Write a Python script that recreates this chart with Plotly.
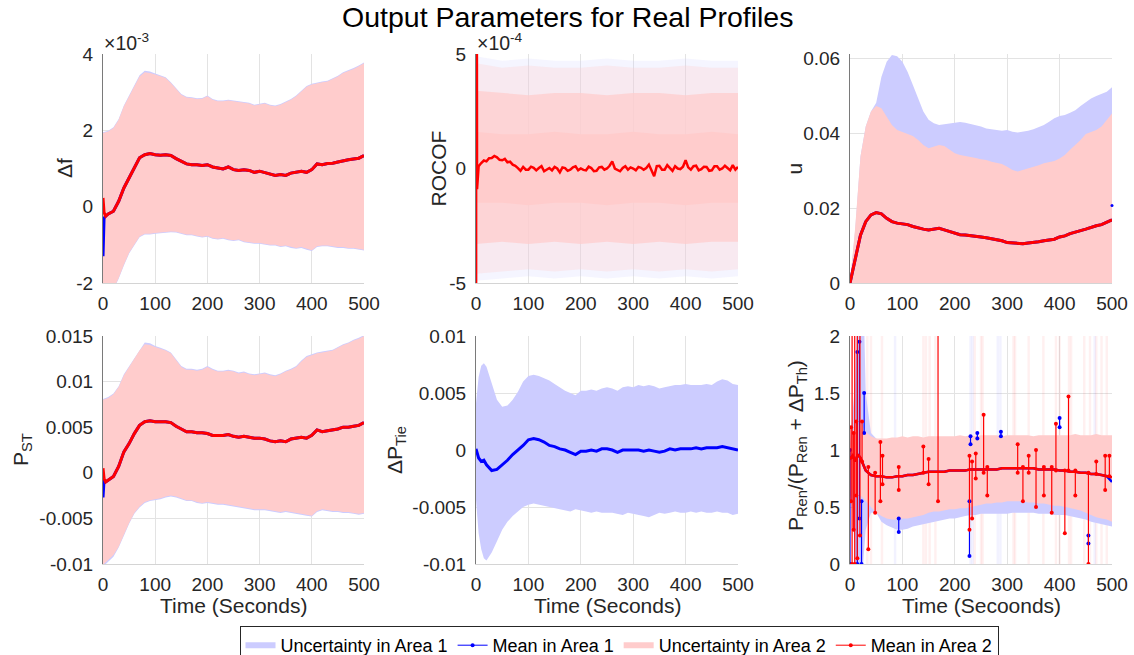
import plotly.graph_objects as go

W, H = 1134, 655
FONT = "Liberation Sans, Arial, Helvetica, sans-serif"
TXT = "#262626"
BLUE_FILL = "#CCCCFF"
PINK_FILL = "#FFCCCC"

# ---------------- time grids ----------------
t10 = list(range(0, 501, 10))                 # 0..500 step 10
t_mean_a = [0, 2, 5] + list(range(10, 501, 10))

# ---------------- Panel 1: delta f (x 1e-3) ----------------
df_a2_up = [1.93, 1.97, 2.06, 2.28, 2.63, 2.89, 3.15, 3.41, 3.52, 3.50, 3.46, 3.41, 3.37, 3.24, 3.08,
            2.93, 2.86, 2.85, 2.82, 2.83, 2.89, 2.80, 2.76, 2.76, 2.78, 2.76, 2.73, 2.72, 2.70, 2.65,
            2.67, 2.70, 2.65, 2.63, 2.67, 2.73, 2.80, 2.89, 3.02, 3.14, 3.20, 3.24, 3.26, 3.28, 3.34,
            3.41, 3.50, 3.55, 3.61, 3.68, 3.76]
df_a2_lo = [-2.60, -2.50, -2.15, -1.87, -1.52, -1.21, -1.00, -0.78, -0.71, -0.71, -0.69, -0.68, -0.66, -0.65, -0.66,
            -0.69, -0.73, -0.73, -0.76, -0.79, -0.77, -0.82, -0.84, -0.82, -0.86, -0.88, -0.86, -0.91, -0.93, -0.95,
            -0.95, -0.97, -1.00, -1.00, -1.04, -1.02, -1.06, -1.08, -1.06, -1.11, -1.14, -1.04, -1.02, -1.02, -1.04,
            -1.06, -1.06, -1.08, -1.08, -1.11, -1.13]
df_a1_up = [1.95, 1.99, 2.08, 2.30, 2.65, 2.91, 3.18, 3.44, 3.56, 3.54, 3.49, 3.43, 3.39, 3.26, 3.10,
            2.95, 2.88, 2.87, 2.84, 2.85, 2.91, 2.82, 2.78, 2.78, 2.80, 2.78, 2.75, 2.74, 2.72, 2.67,
            2.69, 2.72, 2.67, 2.65, 2.69, 2.75, 2.82, 2.91, 3.04, 3.16, 3.22, 3.26, 3.28, 3.30, 3.36,
            3.43, 3.52, 3.57, 3.63, 3.70, 3.78]
df_a1_lo = [-2.62, -2.52, -2.17, -1.89, -1.54, -1.23, -1.02, -0.80, -0.73, -0.73, -0.71, -0.70, -0.68, -0.67, -0.68,
            -0.71, -0.75, -0.75, -0.78, -0.81, -0.79, -0.84, -0.86, -0.84, -0.88, -0.90, -0.88, -0.93, -0.95, -0.97,
            -0.97, -0.99, -1.02, -1.02, -1.06, -1.04, -1.08, -1.10, -1.08, -1.13, -1.16, -1.06, -1.04, -1.04, -1.06,
            -1.08, -1.08, -1.10, -1.10, -1.13, -1.15]
df_a2_mean = [0.23, -0.15, -0.25, -0.19, -0.12, 0.14, 0.49, 0.75, 1.01, 1.28, 1.36, 1.39, 1.36, 1.35, 1.36,
              1.34, 1.26, 1.19, 1.12, 1.10, 1.10, 1.08, 1.10, 1.04, 1.01, 0.99, 1.04, 0.97, 0.95, 0.97,
              0.95, 0.90, 0.93, 0.90, 0.86, 0.82, 0.84, 0.82, 0.88, 0.90, 0.93, 0.90, 0.97, 1.12, 1.10,
              1.13, 1.14, 1.17, 1.21, 1.23, 1.25, 1.27, 1.34]
df_a1_mean = [-1.30, -0.30, -0.25, -0.19, -0.12, 0.14, 0.49, 0.75, 1.01, 1.28, 1.36, 1.39, 1.36, 1.35, 1.36,
              1.34, 1.26, 1.19, 1.12, 1.10, 1.10, 1.08, 1.10, 1.04, 1.01, 0.99, 1.04, 0.97, 0.95, 0.97,
              0.95, 0.90, 0.93, 0.90, 0.86, 0.82, 0.84, 0.82, 0.88, 0.90, 0.93, 0.90, 0.97, 1.12, 1.10,
              1.13, 1.14, 1.17, 1.21, 1.23, 1.25, 1.27, 1.34]

# ---------------- Panel 2: ROCOF (x 1e-4) ----------------
t50 = list(range(0, 501, 50))
rocof_a1_outer_up = [4.9, 4.7, 4.8, 4.7, 4.7, 4.8, 4.7, 4.7, 4.8, 4.7, 4.7]
rocof_a1_outer_lo = [-4.9, -4.8, -4.7, -4.8, -4.7, -4.8, -4.7, -4.8, -4.7, -4.8, -4.7]
rocof_a2_outer_up = [4.6, 4.4, 4.5, 4.4, 4.4, 4.5, 4.4, 4.4, 4.5, 4.4, 4.4]
rocof_a2_outer_lo = [-4.6, -4.5, -4.4, -4.5, -4.4, -4.5, -4.4, -4.5, -4.4, -4.5, -4.4]
rocof_a2_mid_up = [3.4, 3.3, 3.2, 3.3, 3.3, 3.2, 3.3, 3.3, 3.2, 3.3, 3.3]
rocof_a2_mid_lo = [-3.3, -3.2, -3.3, -3.2, -3.3, -3.2, -3.3, -3.2, -3.3, -3.2, -3.2]
rocof_a2_core_up = [1.6, 1.5, 1.5, 1.6, 1.5, 1.5, 1.6, 1.5, 1.5, 1.6, 1.5]
rocof_a2_core_lo = [-1.5, -1.5, -1.6, -1.5, -1.5, -1.6, -1.5, -1.5, -1.6, -1.5, -1.5]
rocof_t = [0, 0.5, 2] + list(range(5, 501, 5))
rocof_a2_mean = [-30, 30, -0.9,
                 0.10, 0.24, 0.35, 0.31, 0.45, 0.46, 0.55, 0.49, 0.38, 0.36,
                 0.42, 0.27, 0.30, 0.17, 0.12, 0.02, -0.10, 0.07, -0.05, -0.05,
                 0.08, 0.03, -0.08, 0.02, 0.10, -0.12, -0.05, 0.02, -0.08, 0.07,
                 0.00, -0.17, 0.05, 0.02, -0.10, -0.05, 0.05, 0.10, -0.08, 0.00,
                 -0.06, -0.08, 0.08, 0.02, -0.12, -0.10, 0.05, 0.07, -0.05, 0.00,
                 0.12, 0.31, 0.00, -0.05, -0.12, 0.02, 0.10, -0.05, 0.05, 0.00,
                 -0.08, 0.07, 0.03, -0.05, 0.02, 0.17, -0.05, -0.34, 0.10, 0.12,
                 -0.05, -0.05, 0.15, 0.02, -0.10, 0.10, 0.00, -0.03, 0.08, 0.36,
                 0.05, -0.05, 0.10, 0.12, -0.08, -0.03, 0.08, 0.07, -0.10, -0.08,
                 0.10, 0.10, -0.05, 0.00, 0.12, 0.02, -0.08, 0.15, -0.05, 0.07]

# ---------------- Panel 3: u ----------------
u_a1_up = [0.0, 0.0142, 0.0338, 0.0418, 0.0458, 0.0482, 0.0551, 0.0591, 0.0609, 0.0606, 0.0591, 0.0564,
           0.0529, 0.0493, 0.0458, 0.0436, 0.0427, 0.0422, 0.0424, 0.0427, 0.0428, 0.0430, 0.0428, 0.0425,
           0.0422, 0.0418, 0.0413, 0.0411, 0.0407, 0.0407, 0.0409, 0.0404, 0.0402, 0.0404, 0.0407, 0.0411,
           0.0416, 0.0422, 0.0431, 0.0440, 0.0446, 0.0449, 0.0455, 0.0462, 0.0473, 0.0484, 0.0493, 0.0500,
           0.0505, 0.0511, 0.0523]
u_a2_up = [0.0, 0.0150, 0.0338, 0.0418, 0.0458, 0.0473, 0.0467, 0.0444, 0.0422, 0.0409, 0.0404, 0.0400,
           0.0393, 0.0382, 0.0369, 0.0360, 0.0364, 0.0369, 0.0366, 0.0357, 0.0347, 0.0342, 0.0340, 0.0338,
           0.0334, 0.0331, 0.0329, 0.0324, 0.0320, 0.0318, 0.0311, 0.0302, 0.0298, 0.0302, 0.0307, 0.0311,
           0.0315, 0.0320, 0.0324, 0.0326, 0.0333, 0.0342, 0.0356, 0.0369, 0.0382, 0.0398, 0.0404, 0.0409,
           0.0418, 0.0437, 0.0453]
u_a2_mean = [0.0, 0.0060, 0.0128, 0.0164, 0.0182, 0.0188, 0.0185, 0.0173, 0.0164, 0.0160, 0.0158, 0.0156,
             0.0151, 0.0147, 0.0144, 0.0142, 0.0145, 0.0146, 0.0142, 0.0138, 0.0132, 0.0129, 0.0128, 0.0126,
             0.0123, 0.0123, 0.0121, 0.0119, 0.0116, 0.0113, 0.0108, 0.0107, 0.0105, 0.0105, 0.0107, 0.0108,
             0.0110, 0.0113, 0.0116, 0.0117, 0.0123, 0.0126, 0.0132, 0.0135, 0.0140, 0.0144, 0.0149, 0.0153,
             0.0156, 0.0162, 0.0169]
u_a1_mean = [0.0, 0.0060, 0.0128, 0.0164, 0.0182, 0.0188, 0.0185, 0.0173, 0.0164, 0.0160, 0.0158, 0.0156,
             0.0151, 0.0147, 0.0144, 0.0142, 0.0145, 0.0146, 0.0142, 0.0138, 0.0132, 0.0129, 0.0128, 0.0126,
             0.0123, 0.0123, 0.0121, 0.0119, 0.0116, 0.0113, 0.0108, 0.0107, 0.0105, 0.0105, 0.0107, 0.0108,
             0.0110, 0.0113, 0.0116, 0.0117, 0.0123, 0.0126, 0.0132, 0.0135, 0.0140, 0.0144, 0.0149, 0.0153,
             0.0156, 0.0162, 0.0169]
u_a1_end_t = [500]
u_a1_end_v = [0.0207]

# ---------------- Panel 4: P_ST ----------------
pst_a2_up = [0.0080, 0.0082, 0.0086, 0.0094, 0.0107, 0.0116, 0.0124, 0.0134, 0.0141, 0.0140, 0.0138, 0.0136,
             0.0134, 0.0131, 0.0123, 0.0116, 0.0113, 0.0113, 0.0112, 0.0113, 0.0116, 0.0113, 0.0111, 0.0111,
             0.0112, 0.0111, 0.0109, 0.0110, 0.0108, 0.0107, 0.0108, 0.0109, 0.0107, 0.0106, 0.0108, 0.0111,
             0.0113, 0.0116, 0.0122, 0.0127, 0.0129, 0.0131, 0.0132, 0.0133, 0.0134, 0.0137, 0.0140, 0.0142,
             0.0145, 0.0147, 0.0150]
pst_a2_lo = [-0.0101, -0.0095, -0.0090, -0.0081, -0.0068, -0.0055, -0.0044, -0.0037, -0.0032, -0.0030, -0.0029,
             -0.0028, -0.0026, -0.0025, -0.0026, -0.0028, -0.0030, -0.0030, -0.0032, -0.0033, -0.0032, -0.0033,
             -0.0034, -0.0034, -0.0035, -0.0036, -0.0037, -0.0038, -0.0039, -0.0040, -0.0040, -0.0040, -0.0041,
             -0.0042, -0.0043, -0.0042, -0.0043, -0.0044, -0.0045, -0.0046, -0.0047, -0.0042, -0.0040, -0.0041,
             -0.0042, -0.0042, -0.0043, -0.0043, -0.0044, -0.0045, -0.0044]
pst_a1_up = [0.0081, 0.0083, 0.0087, 0.0095, 0.0108, 0.0117, 0.0125, 0.0135, 0.0143, 0.0142, 0.0139, 0.0137,
             0.0135, 0.0132, 0.0124, 0.0117, 0.0114, 0.0114, 0.0113, 0.0114, 0.0117, 0.0114, 0.0112, 0.0112,
             0.0113, 0.0112, 0.0110, 0.0111, 0.0109, 0.0108, 0.0109, 0.0110, 0.0108, 0.0107, 0.0109, 0.0112,
             0.0114, 0.0117, 0.0123, 0.0128, 0.0130, 0.0132, 0.0133, 0.0134, 0.0135, 0.0138, 0.0141, 0.0143,
             0.0146, 0.0148, 0.0151]
pst_a1_lo = [-0.0103, -0.0097, -0.0092, -0.0082, -0.0069, -0.0056, -0.0045, -0.0038, -0.0033, -0.0031, -0.0030,
             -0.0029, -0.0027, -0.0026, -0.0027, -0.0029, -0.0031, -0.0031, -0.0033, -0.0034, -0.0033, -0.0034,
             -0.0035, -0.0035, -0.0036, -0.0037, -0.0038, -0.0039, -0.0040, -0.0041, -0.0041, -0.0041, -0.0042,
             -0.0043, -0.0044, -0.0043, -0.0044, -0.0045, -0.0046, -0.0047, -0.0048, -0.0043, -0.0041, -0.0042,
             -0.0043, -0.0043, -0.0044, -0.0044, -0.0045, -0.0046, -0.0045]
pst_a2_mean = [0.0005, -0.0006, -0.0010, -0.0008, -0.0004, 0.0007, 0.0023, 0.0032, 0.0043, 0.0052, 0.0056, 0.0057,
               0.0056, 0.0056, 0.0056, 0.0055, 0.0051, 0.0048, 0.0045, 0.0045, 0.0044, 0.0044, 0.0043, 0.0041,
               0.0041, 0.0041, 0.0042, 0.0040, 0.0039, 0.0040, 0.0039, 0.0038, 0.0038, 0.0037, 0.0035, 0.0034,
               0.0035, 0.0034, 0.0037, 0.0038, 0.0039, 0.0038, 0.0041, 0.0047, 0.0045, 0.0046, 0.0047, 0.0048,
               0.0050, 0.0050, 0.0051, 0.0052, 0.0055]
pst_a1_mean = [-0.0027, -0.0008, -0.0010, -0.0008, -0.0004, 0.0007, 0.0023, 0.0032, 0.0043, 0.0052, 0.0056, 0.0057,
               0.0056, 0.0056, 0.0056, 0.0055, 0.0051, 0.0048, 0.0045, 0.0045, 0.0044, 0.0044, 0.0043, 0.0041,
               0.0041, 0.0041, 0.0042, 0.0040, 0.0039, 0.0040, 0.0039, 0.0038, 0.0038, 0.0037, 0.0035, 0.0034,
               0.0035, 0.0034, 0.0037, 0.0038, 0.0039, 0.0038, 0.0041, 0.0047, 0.0045, 0.0046, 0.0047, 0.0048,
               0.0050, 0.0050, 0.0051, 0.0052, 0.0055]

# ---------------- Panel 5: delta P_Tie ----------------
t_tie = [0, 5, 10, 15, 20] + list(range(30, 501, 10))
tie_a1_up = [0.0041, 0.0064, 0.0074, 0.0076, 0.0073, 0.0058, 0.0044, 0.0038, 0.0039, 0.0044, 0.0051, 0.0060,
             0.0065, 0.0066, 0.0065, 0.0063, 0.0061, 0.0058, 0.0055, 0.0052, 0.0050, 0.0048, 0.0052, 0.0052,
             0.0053, 0.0052, 0.0054, 0.0055, 0.0054, 0.0052, 0.0055, 0.0056, 0.0055, 0.0057, 0.0056, 0.0057,
             0.0056, 0.0054, 0.0055, 0.0056, 0.0057, 0.0057, 0.0058, 0.0057, 0.0057, 0.0057, 0.0058, 0.0057,
             0.0060, 0.0062, 0.0061, 0.0058, 0.0057]
tie_a1_lo = [-0.0044, -0.0073, -0.0087, -0.0095, -0.0097, -0.0090, -0.0080, -0.0070, -0.0063, -0.0058, -0.0054,
             -0.0050, -0.0048, -0.0047, -0.0048, -0.0049, -0.0050, -0.0051, -0.0052, -0.0053, -0.0054, -0.0052,
             -0.0053, -0.0054, -0.0055, -0.0054, -0.0055, -0.0055, -0.0055, -0.0056, -0.0057, -0.0055, -0.0056,
             -0.0057, -0.0058, -0.0059, -0.0057, -0.0055, -0.0056, -0.0055, -0.0054, -0.0055, -0.0055, -0.0054,
             -0.0055, -0.0054, -0.0055, -0.0055, -0.0054, -0.0055, -0.0055, -0.0057, -0.0056]
tie_a1_mean = [0.0001, -0.0007, -0.0010, -0.0009, -0.0013, -0.0018, -0.0017, -0.0013, -0.0009, -0.0004, 0.0000,
               0.0004, 0.0009, 0.0010, 0.0009, 0.0007, 0.0004, 0.0003, 0.0001, 0.0000, -0.0002, -0.0004, -0.0001,
               -0.0001, 0.0000, -0.0001, 0.0001, 0.0001, 0.0000, -0.0002, 0.0000, 0.0000, 0.0000, 0.0000, -0.0001,
               0.0000, -0.0001, -0.0002, -0.0001, 0.0001, 0.0000, 0.0001, 0.0001, 0.0001, 0.0002, 0.0001, 0.0002,
               0.0002, 0.0002, 0.0003, 0.0002, 0.0001, 0.0000]

# ---------------- Panel 6: P_Ren / (P_Ren + dP_Th) ----------------
t_ren = [0, 5, 10, 15, 20, 25, 30] + list(range(40, 501, 10))
ren_a1_up = [1.05, 1.30, 1.60, 2.50, 2.50, 2.50, 1.50,
             1.15, 1.10, 1.08, 1.08, 1.08, 1.08, 1.08, 1.08, 1.08, 1.08,
             1.08, 1.08, 1.08, 1.08, 1.08, 1.08, 1.08, 1.08, 1.08, 1.08,
             1.08, 1.08, 1.08, 1.08, 1.08, 1.08, 1.08, 1.08, 1.08, 1.08,
             1.08, 1.08, 1.08, 1.08, 1.08, 1.08, 1.08, 1.08, 1.08, 1.08,
             1.08, 1.08, 1.08, 1.08, 1.08, 1.08, 1.08]
ren_a1_lo = [0.60, 0.50, 0.00, 0.00, 0.00, 0.00, 0.30,
             0.45, 0.45, 0.37, 0.34, 0.32, 0.30, 0.30, 0.31, 0.33, 0.34,
             0.35, 0.36, 0.37, 0.38, 0.39, 0.40, 0.40, 0.41, 0.42, 0.43,
             0.43, 0.44, 0.44, 0.44, 0.44, 0.44, 0.44, 0.45, 0.45, 0.45,
             0.45, 0.45, 0.44, 0.44, 0.44, 0.43, 0.43, 0.43, 0.42, 0.41,
             0.40, 0.39, 0.37, 0.36, 0.35, 0.34, 0.33]
ren_a2_up = [1.00, 1.15, 1.20, 1.22, 1.23, 1.20, 1.16,
             1.12, 1.10, 1.10, 1.10, 1.11, 1.11, 1.12, 1.11, 1.12, 1.12,
             1.11, 1.12, 1.12, 1.12, 1.12, 1.12, 1.12, 1.13, 1.12, 1.13,
             1.12, 1.13, 1.13, 1.13, 1.13, 1.12, 1.13, 1.13, 1.13, 1.13,
             1.13, 1.12, 1.13, 1.13, 1.13, 1.13, 1.13, 1.13, 1.13, 1.14,
             1.13, 1.13, 1.13, 1.14, 1.13, 1.13, 1.13]
ren_a2_lo = [0.80, 0.65, 0.60, 0.60, 0.60, 0.58, 0.56,
             0.50, 0.45, 0.42, 0.40, 0.39, 0.39, 0.40, 0.40, 0.41, 0.42,
             0.43, 0.45, 0.46, 0.46, 0.47, 0.48, 0.48, 0.49, 0.49, 0.50,
             0.51, 0.52, 0.53, 0.53, 0.54, 0.54, 0.55, 0.55, 0.55, 0.55,
             0.54, 0.54, 0.53, 0.53, 0.52, 0.51, 0.51, 0.50, 0.49, 0.48,
             0.47, 0.45, 0.43, 0.41, 0.40, 0.39, 0.37]
ren_a2_mean = [0.92, 0.95, 0.90, 0.96, 0.93, 0.88, 0.82,
               0.78, 0.77, 0.77, 0.76, 0.76, 0.77, 0.77, 0.78, 0.78, 0.79,
               0.80, 0.81, 0.81, 0.81, 0.81, 0.82, 0.82, 0.82, 0.82, 0.83,
               0.83, 0.83, 0.83, 0.83, 0.83, 0.84, 0.84, 0.84, 0.84, 0.84,
               0.84, 0.84, 0.83, 0.83, 0.83, 0.83, 0.82, 0.82, 0.81, 0.81,
               0.80, 0.80, 0.79, 0.79, 0.78, 0.77, 0.76]
ren_a1_mean = [0.92, 0.95, 0.90, 0.96, 0.93, 0.88, 0.82,
               0.78, 0.77, 0.77, 0.76, 0.76, 0.77, 0.77, 0.78, 0.78, 0.79,
               0.80, 0.81, 0.81, 0.81, 0.81, 0.82, 0.82, 0.82, 0.82, 0.83,
               0.83, 0.83, 0.83, 0.83, 0.83, 0.84, 0.84, 0.84, 0.84, 0.84,
               0.84, 0.84, 0.83, 0.83, 0.83, 0.83, 0.82, 0.82, 0.81, 0.81,
               0.80, 0.80, 0.79, 0.79, 0.78, 0.77, 0.72]
# outlier samples of the means: time, low end, high end
ren_a2_spike_t = [2, 4, 7, 9, 12, 14, 19, 23, 35, 48, 58, 62, 93, 140, 150, 168, 228, 233, 240, 255, 262,
                  320, 330, 341, 355, 370, 385, 393, 410, 417, 430, 455, 470, 487, 495]
ren_a2_spike_lo = [0.55, 0.00, 0.30, 0.00, 0.60, 0.05, 0.25, 0.90, 0.13, 0.45, 0.55, 0.70, 0.65, 0.80, 0.70,
                   0.55, 0.30, 0.40, 0.75, 0.80, 0.60, 0.80, 0.55, 0.80, 0.50, 0.60, 0.45, 0.82, 0.27, 0.82,
                   0.60, 0.00, 0.79, 0.65, 0.77]
ren_a2_spike_hi = [1.20, 2.50, 1.15, 2.50, 1.25, 2.50, 2.50, 1.25, 0.85, 0.80, 1.07, 0.95, 0.85, 1.03, 0.92,
                   2.50, 0.95, 0.90, 0.97, 1.31, 0.85, 1.05, 0.85, 0.95, 1.00, 0.85, 0.85, 1.23, 0.82, 1.47,
                   0.82, 0.80, 0.90, 0.95, 0.95]
ren_a1_spike_t = [0, 14, 18, 22, 27, 93, 228, 230, 243, 288, 400, 455]
ren_a1_spike_lo = [0.00, 0.00, 0.40, 0.00, 1.15, 0.28, 0.07, 1.05, 1.10, 1.12, 1.20, 0.18]
ren_a1_spike_hi = [1.00, 1.86, 1.95, 0.55, 1.50, 0.40, 0.55, 1.12, 1.15, 1.16, 1.28, 0.25]
# thin uncertainty excursions (faint vertical streaks)
ren_a2_streak_t = [33, 40, 61, 140, 145, 152, 163, 238, 250, 253, 312, 315, 341, 369, 393, 400, 418, 422,
                   447, 458, 470, 480, 490]
ren_a1_streak_t = [86, 230, 234, 282, 287, 467]

for a, b in [(df_a2_up, t10), (df_a2_lo, t10), (df_a1_up, t10), (df_a1_lo, t10),
             (df_a2_mean, t_mean_a), (df_a1_mean, t_mean_a), (rocof_a2_mean, rocof_t),
             (u_a1_up, t10), (u_a2_up, t10), (u_a2_mean, t10), (u_a1_mean, t10),
             (pst_a2_up, t10), (pst_a2_lo, t10), (pst_a1_up, t10), (pst_a1_lo, t10),
             (pst_a2_mean, t_mean_a), (pst_a1_mean, t_mean_a),
             (tie_a1_up, t_tie), (tie_a1_lo, t_tie), (tie_a1_mean, t_tie),
             (ren_a1_up, t_ren), (ren_a1_lo, t_ren), (ren_a2_up, t_ren), (ren_a2_lo, t_ren),
             (ren_a2_mean, t_ren), (ren_a1_mean, t_ren)]:
    assert len(a) == len(b), (len(a), len(b))

# ---------------- figure ----------------
fig = go.Figure()

def px2x(p):
    return p / W

def px2y(p):
    return 1 - p / H

cols = [(103, 364), (476, 738), (850, 1112)]
rows = [(54, 283), (336, 564)]

def band(ax, t, up, lo, color, opacity=1.0):
    fig.add_trace(go.Scatter(x=list(t) + list(t)[::-1], y=list(up) + list(lo)[::-1],
                             fill="toself", fillcolor=color, opacity=opacity,
                             mode="lines", line=dict(width=0), hoverinfo="skip",
                             showlegend=False, xaxis="x" + ax, yaxis="y" + ax))

def band_zero(ax, t, up, color):
    fig.add_trace(go.Scatter(x=t, y=up, fill="tozeroy", fillcolor=color, mode="lines",
                             line=dict(width=0), hoverinfo="skip", showlegend=False,
                             xaxis="x" + ax, yaxis="y" + ax))

def mean(ax, t, y, color, width=3):
    fig.add_trace(go.Scatter(x=t, y=y, mode="lines", line=dict(color=color, width=width),
                             hoverinfo="skip", showlegend=False, xaxis="x" + ax, yaxis="y" + ax))

def segments(ax, ts, lo, hi, color, width, markers=True, opacity=1.0):
    xs, ys = [], []
    for t, a, b in zip(ts, lo, hi):
        xs += [t, t, None]
        ys += [a, b, None]
    fig.add_trace(go.Scatter(x=xs, y=ys, mode="lines+markers" if markers else "lines",
                             line=dict(color=color, width=width), marker=dict(size=4, color=color),
                             opacity=opacity, hoverinfo="skip", showlegend=False,
                             xaxis="x" + ax, yaxis="y" + ax))

# Panel 1
band("", t10, df_a1_up, df_a1_lo, BLUE_FILL)
band("", t10, df_a2_up, df_a2_lo, PINK_FILL)
mean("", t_mean_a, df_a1_mean, "#0000FF")
mean("", t_mean_a, df_a2_mean, "#FF0000")

# Panel 2
band("2", t50, rocof_a1_outer_up, rocof_a1_outer_lo, "rgba(204,204,255,0.20)")
band("2", t50, rocof_a2_outer_up, rocof_a2_outer_lo, "rgba(255,204,204,0.30)")
band("2", t50, rocof_a2_mid_up, rocof_a2_mid_lo, "rgba(255,204,204,0.72)")
band("2", t50, rocof_a2_core_up, rocof_a2_core_lo, PINK_FILL)
mean("2", rocof_t, rocof_a2_mean, "#FF0000", 2.5)

# Panel 3
band_zero("3", t10, u_a1_up, BLUE_FILL)
band_zero("3", t10, u_a2_up, PINK_FILL)
mean("3", t10, u_a1_mean, "#0000FF")
mean("3", t10, u_a2_mean, "#FF0000")
fig.add_trace(go.Scatter(x=u_a1_end_t, y=u_a1_end_v, mode="markers", marker=dict(size=3, color="#0000FF"),
                         cliponaxis=False, hoverinfo="skip", showlegend=False, xaxis="x3", yaxis="y3"))

# Panel 4
band("4", t10, pst_a1_up, pst_a1_lo, BLUE_FILL)
band("4", t10, pst_a2_up, pst_a2_lo, PINK_FILL)
mean("4", t_mean_a, pst_a1_mean, "#0000FF")
mean("4", t_mean_a, pst_a2_mean, "#FF0000")

# Panel 5
band("5", t_tie, tie_a1_up, tie_a1_lo, BLUE_FILL)
mean("5", t_tie, tie_a1_mean, "#0000FF")

# Panel 6
segments("6", ren_a2_streak_t, [0] * len(ren_a2_streak_t), [2.5] * len(ren_a2_streak_t),
         "rgba(255,0,0,0.06)", 2.5, markers=False)
segments("6", ren_a1_streak_t, [0] * len(ren_a1_streak_t), [2.5] * len(ren_a1_streak_t),
         "rgba(0,0,255,0.05)", 2.5, markers=False)
band("6", t_ren, ren_a1_up, ren_a1_lo, BLUE_FILL)
band("6", t_ren, ren_a2_up, ren_a2_lo, PINK_FILL)
mean("6", t_ren, ren_a1_mean, "#0000FF", 2.5)
segments("6", ren_a1_spike_t, ren_a1_spike_lo, ren_a1_spike_hi, "#0000FF", 1.2)
mean("6", t_ren, ren_a2_mean, "#FF0000", 2.5)
segments("6", ren_a2_spike_t, ren_a2_spike_lo, ren_a2_spike_hi, "#FF0000", 1.2)

# legend entries
leg = [("Uncertainty in Area 1", "fill", BLUE_FILL),
       ("Mean in Area 1", "line", "#0000FF"),
       ("Uncertainty in Area 2", "fill", PINK_FILL),
       ("Mean in Area 2", "line", "#FF0000")]
for name, kind, col in leg:
    if kind == "fill":
        fig.add_trace(go.Scatter(x=[None], y=[None], name=name, mode="none", fill="toself",
                                 fillcolor=col, showlegend=True))
    else:
        fig.add_trace(go.Scatter(x=[None], y=[None], name=name, mode="lines+markers",
                                 line=dict(color=col, width=1), marker=dict(size=4, color=col),
                                 showlegend=True))

xt = [0, 100, 200, 300, 400, 500]
yspecs = [
    ([-2, 4], [-2, 0, 2, 4], ["-2", "0", "2", "4"]),
    ([-5, 5], [-5, 0, 5], ["-5", "0", "5"]),
    ([0, 0.0612], [0, 0.02, 0.04, 0.06], ["0", "0.02", "0.04", "0.06"]),
    ([-0.01, 0.015], [-0.01, -0.005, 0, 0.005, 0.01, 0.015], ["-0.01", "-0.005", "0", "0.005", "0.01", "0.015"]),
    ([-0.01, 0.01], [-0.01, -0.005, 0, 0.005, 0.01], ["-0.01", "-0.005", "0", "0.005", "0.01"]),
    ([0, 2], [0, 0.5, 1, 1.5, 2], ["0", "0.5", "1", "1.5", "2"]),
]

lay = dict(width=W, height=H, margin=dict(l=0, r=0, t=0, b=0, pad=0, autoexpand=False), autosize=False,
           paper_bgcolor="white", plot_bgcolor="white",
           font=dict(family=FONT, color=TXT, size=19))
for i in range(6):
    r, c = divmod(i, 3)
    sx = "" if i == 0 else str(i + 1)
    x0, x1 = cols[c]
    y0, y1 = rows[r]
    lay["xaxis" + sx] = dict(domain=[px2x(x0), px2x(x1)], anchor="y" + sx, range=[0, 500],
                             tickvals=xt, ticktext=[str(v) for v in xt], showgrid=True,
                             gridcolor="#e3e3e3", gridwidth=1, zeroline=False, showline=True,
                             linecolor="#d4d4d4", linewidth=1, ticks="", ticklabelstandoff=3,
                             automargin=False,
                             tickfont=dict(size=19, color=TXT, family=FONT), fixedrange=True)
    rng, tv, tt = yspecs[i]
    lay["yaxis" + sx] = dict(domain=[px2y(y1), px2y(y0)], anchor="x" + sx, range=rng,
                             tickvals=tv, ticktext=tt, showgrid=True, gridcolor="#e3e3e3",
                             gridwidth=1, zeroline=False, showline=True, linecolor="#7a7a7a",
                             linewidth=1, ticks="", ticklabelstandoff=5, automargin=False,
                             tickfont=dict(size=19, color=TXT, family=FONT), fixedrange=True)

ann = []
ann.append(dict(text="Output Parameters for Real Profiles", x=0.5, y=px2y(17), xref="paper", yref="paper",
                xanchor="center", yanchor="middle", showarrow=False,
                font=dict(size=28.5, color="#000000", family=FONT)))
ylabels = [("Δf", 64.5, 168.5), ("ROCOF", 438, 168.5), ("u", 794, 168.5),
           ("P<sub>ST</sub>", 22, 450), ("ΔP<sub>Tie</sub>", 396, 450),
           ("P<sub>Ren</sub>/(P<sub>Ren</sub> + ΔP<sub>Th</sub>)", 797, 446)]
for txt, x, y in ylabels:
    ann.append(dict(text=txt, x=px2x(x), y=px2y(y), xref="paper", yref="paper", textangle=-90,
                    xanchor="center", yanchor="middle", showarrow=False,
                    font=dict(size=21, color=TXT, family=FONT)))
for txt, x in [("Time (Seconds)", 233.5), ("Time (Seconds)", 607), ("Time (Secoonds)", 981)]:
    ann.append(dict(text=txt, x=px2x(x), y=px2y(605), xref="paper", yref="paper",
                    xanchor="center", yanchor="middle", showarrow=False,
                    font=dict(size=21, color=TXT, family=FONT)))
for txt, x in [("×10<sup>-3</sup>", 102), ("×10<sup>-4</sup>", 475)]:
    ann.append(dict(text=txt, x=px2x(x), y=px2y(56), xref="paper", yref="paper",
                    xanchor="left", yanchor="bottom", showarrow=False,
                    font=dict(size=19.5, color=TXT, family=FONT)))
lay["annotations"] = ann
lay["legend"] = dict(orientation="h", x=px2x(619), xanchor="center", y=px2y(626), yanchor="top",
                     bordercolor="#262626", borderwidth=1, bgcolor="white",
                     font=dict(size=18, color="#000000", family=FONT), itemwidth=30,
                     tracegroupgap=0, traceorder="normal")
fig.update_layout(**lay)
fig.write_html("out.html", config={"displayModeBar": False},
               post_script="document.body.style.margin='0px';document.body.style.overflow='hidden';")
